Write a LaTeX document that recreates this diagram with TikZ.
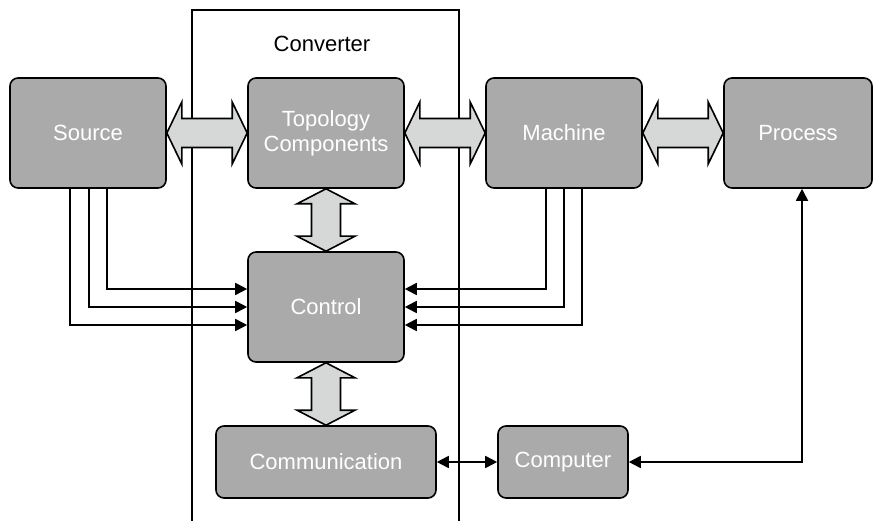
\documentclass[tikz,border=0pt]{standalone}
\usepackage{fontspec}
\setmainfont{Liberation Sans}
\usetikzlibrary{arrows.meta,calc}
\definecolor{boxgray}{HTML}{A9AAA9}
\definecolor{arrowgray}{HTML}{D6D8D7}
\tikzset{
  box/.style={draw=black, line width=1.6pt, fill=boxgray, rounded corners=8pt,
    text=white, font=\fontsize{22}{25}\selectfont, align=center, inner sep=0pt},
  blockarrow/.style={draw=black, line width=1.6pt, fill=arrowgray, line join=miter},
  sig/.style={draw=black, line width=1.8pt, -{Triangle[length=12pt,width=12pt]}},
  sigboth/.style={draw=black, line width=1.8pt, {Triangle[length=12pt,width=12pt]}-{Triangle[length=12pt,width=12pt]}},
  frame/.style={draw=black, line width=1.4pt}
}
\newcommand\harrow[2]{%
  \draw[blockarrow] let \p1=(#1.east), \p2=(#2.west) in
    (\x1,\y1) -- (\x1+15pt,\y1+31pt) -- (\x1+15pt,\y1+14.5pt) -- (\x2-15pt,\y1+14.5pt)
    -- (\x2-15pt,\y1+31pt) -- (\x2,\y1) -- (\x2-15pt,\y1-31pt) -- (\x2-15pt,\y1-14.5pt)
    -- (\x1+15pt,\y1-14.5pt) -- (\x1+15pt,\y1-31pt) -- cycle;}
\newcommand\varrow[2]{%
  \draw[blockarrow] let \p1=(#1.south), \p2=(#2.north) in
    (\x1,\y1) -- (\x1+29pt,\y1-15pt) -- (\x1+14.5pt,\y1-15pt) -- (\x1+14.5pt,\y2+15pt)
    -- (\x1+29pt,\y2+15pt) -- (\x1,\y2) -- (\x1-29pt,\y2+15pt) -- (\x1-14.5pt,\y2+15pt)
    -- (\x1-14.5pt,\y1-15pt) -- (\x1-29pt,\y1-15pt) -- cycle;}
\begin{document}
\begin{tikzpicture}[x=1pt,y=-1pt]
\useasboundingbox[fill=white] (0,0) rectangle (873,521);
% converter frame
\draw[frame] (192,521) -- (192,10) -- (459,10) -- (459,521);
\node[font=\fontsize{22}{25}\selectfont] (conv) at (322,44) {Converter};
% boxes
\node[box, minimum width=156pt, minimum height=110pt] (src)  at (88,133)  {Source};
\node[box, minimum width=156pt, minimum height=110pt] (topo) at (326,133) {Topology\\Components};
\node[box, minimum width=156pt, minimum height=110pt] (mach) at (564,133) {Machine};
\node[box, minimum width=148pt, minimum height=110pt] (proc) at (798,133) {Process};
\node[box, minimum width=156pt, minimum height=110pt] (ctrl) at (326,307) {Control};
\node[box, minimum width=220pt, minimum height=72pt]  (comm) at (326,462) {Communication};
\node[box, minimum width=130pt, minimum height=72pt]  (comp) at (563,462) {Computer};
% block arrows
\harrow{src}{topo}
\harrow{topo}{mach}
\harrow{mach}{proc}
\varrow{topo}{ctrl}
\varrow{ctrl}{comm}
% signal lines from source
\draw[sig] ($(src.south)+(19,0)$) |- ($(ctrl.west)+(0,-18)$);
\draw[sig] ($(src.south)+(1,0)$) |- (ctrl.west);
\draw[sig] ($(src.south)+(-18,0)$) |- ($(ctrl.west)+(0,18)$);
% signal lines from machine
\draw[sig] ($(mach.south)+(-18,0)$) |- ($(ctrl.east)+(0,-18)$);
\draw[sig] (mach.south) |- (ctrl.east);
\draw[sig] ($(mach.south)+(18,0)$) |- ($(ctrl.east)+(0,18)$);
% communication links
\draw[sigboth] (comm.east) -- (comp.west);
\draw[sigboth] (comp.east) -| ($(proc.south)+(4,0)$);
\end{tikzpicture}
\end{document}
